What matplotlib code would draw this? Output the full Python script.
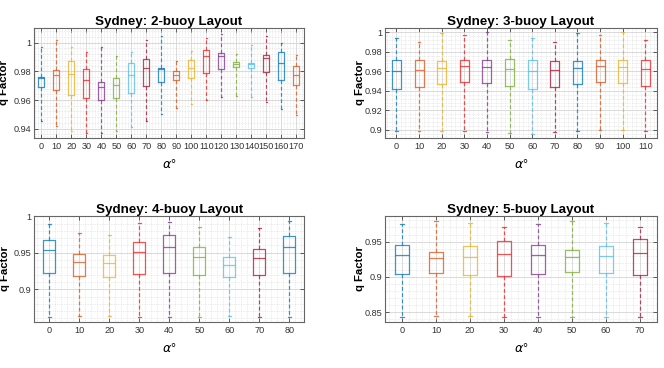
import matplotlib
matplotlib.use("Agg")
import matplotlib.pyplot as plt
from matplotlib.ticker import AutoMinorLocator, MultipleLocator

plt.rcParams['font.family'] = ['Liberation Sans', 'DejaVu Sans']

# ---- data (q factor box stats per angle) ----
angles_2 = [0, 10, 20, 30, 40, 50, 60, 70, 80, 90, 100, 110, 120, 130, 140, 150, 160, 170]
whi_2 = [0.9968, 1.0016, 0.9973, 0.9934, 0.9968, 0.9904, 0.9936, 1.0016, 1.0046,
         0.9872, 0.9940, 1.0034, 1.0064, 0.9924, 0.9982, 1.0050, 0.9995, 0.9911]
q3_2 = [0.9762, 0.9810, 0.9872, 0.9817, 0.9725, 0.9755, 0.9856, 0.9883, 0.9821,
        0.9803, 0.9879, 0.9947, 0.9931, 0.9865, 0.9856, 0.9911, 0.9934, 0.9840]
med_2 = [0.9755, 0.9775, 0.9782, 0.9737, 0.9691, 0.9702, 0.9775, 0.9826, 0.9817,
         0.9775, 0.9824, 0.9906, 0.9906, 0.9849, 0.9849, 0.9895, 0.9858, 0.9775]
q1_2 = [0.9688, 0.9672, 0.9638, 0.9611, 0.9597, 0.9611, 0.9652, 0.9698, 0.9727,
        0.9743, 0.9757, 0.9789, 0.9819, 0.9830, 0.9826, 0.9796, 0.9743, 0.9707]
wlo_2 = [0.9457, 0.9418, 0.9381, 0.9370, 0.9370, 0.9381, 0.9414, 0.9457, 0.9505,
         0.9542, 0.9572, 0.9597, 0.9620, 0.9631, 0.9620, 0.9583, 0.9537, 0.9496]

angles_3 = [0, 10, 20, 30, 40, 50, 60, 70, 80, 90, 100, 110]
whi_3 = [0.9938, 0.9904, 0.9990, 0.9969, 1.0000, 0.9918, 0.9938, 0.9901, 0.9990, 0.9969, 1.0000, 0.9918]
q3_3 = [0.9712, 0.9712, 0.9709, 0.9712, 0.9712, 0.9723, 0.9719, 0.9709, 0.9709, 0.9719, 0.9712, 0.9719]
med_3 = [0.9603, 0.9610, 0.9630, 0.9651, 0.9644, 0.9620, 0.9606, 0.9610, 0.9630, 0.9651, 0.9644, 0.9620]
q1_3 = [0.9421, 0.9435, 0.9466, 0.9486, 0.9476, 0.9445, 0.9418, 0.9435, 0.9466, 0.9486, 0.9476, 0.9445]
wlo_3 = [0.8986, 0.8983, 0.8993, 0.8986, 0.8973, 0.8966, 0.8962, 0.8973, 0.8983, 0.9000, 0.9000, 0.8993]

angles_4 = [0, 10, 20, 30, 40, 50, 60, 70, 80]
whi_4 = [0.9900, 0.9767, 0.9744, 0.9913, 0.9927, 0.9858, 0.9721, 0.9836, 0.9941]
q3_4 = [0.9680, 0.9489, 0.9475, 0.9653, 0.9740, 0.9575, 0.9447, 0.9557, 0.9735]
med_4 = [0.9534, 0.9370, 0.9356, 0.9507, 0.9575, 0.9438, 0.9333, 0.9425, 0.9575]
q1_4 = [0.9228, 0.9178, 0.9164, 0.9210, 0.9228, 0.9196, 0.9164, 0.9192, 0.9228]
wlo_4 = [0.8616, 0.8630, 0.8630, 0.8616, 0.8616, 0.8616, 0.8630, 0.8626, 0.8616]

angles_5 = [0, 10, 20, 30, 40, 50, 60, 70]
whi_5 = [0.9745, 0.9792, 0.9759, 0.9712, 0.9745, 0.9797, 0.9759, 0.9712]
q3_5 = [0.9453, 0.9358, 0.9434, 0.9514, 0.9458, 0.9377, 0.9443, 0.9533]
med_5 = [0.9307, 0.9269, 0.9288, 0.9330, 0.9316, 0.9278, 0.9302, 0.9340]
q1_5 = [0.9038, 0.9052, 0.9024, 0.9019, 0.9042, 0.9066, 0.9052, 0.9028]
wlo_5 = [0.8429, 0.8443, 0.8443, 0.8439, 0.8429, 0.8429, 0.8429, 0.8429]

palette = ['#0072BD', '#D95319', '#EDB120', '#EE1C1C',
           '#7E2F8E', '#77AC30', '#4DBEEE', '#A2142F']

panels = [
    ("Sydney: 2-buoy Layout", angles_2, whi_2, q3_2, med_2, q1_2, wlo_2,
     [0.0512, 0.625, 0.4066, 0.299], (0.9335, 1.0103), [0.94, 0.96, 0.98, 1.0],
     ['0.94', '0.96', '0.98', '1'], -0.091),
    ("Sydney: 3-buoy Layout", angles_3, whi_3, q3_3, med_3, q1_3, wlo_3,
     [0.580, 0.626, 0.409, 0.297], (0.892, 1.004), [0.9, 0.92, 0.94, 0.96, 0.98, 1.0],
     ['0.9', '0.92', '0.94', '0.96', '0.98', '1'], -0.073),
    ("Sydney: 4-buoy Layout", angles_4, whi_4, q3_4, med_4, q1_4, wlo_4,
     [0.0517, 0.126, 0.4066, 0.2865], (0.8557, 1.0), [0.9, 0.95, 1.0],
     ['0.9', '0.95', '1'], -0.091),
    ("Sydney: 5-buoy Layout", angles_5, whi_5, q3_5, med_5, q1_5, wlo_5,
     [0.580, 0.126, 0.409, 0.2865], (0.8367, 0.986), [0.85, 0.9, 0.95],
     ['0.85', '0.9', '0.95'], -0.073),
]

fig = plt.figure(figsize=(6.64, 3.68), dpi=100)

for title, ang, whi, q3, med, q1, wlo, rect, ylim, yt, ytl, ylab_x in panels:
    ax = fig.add_axes(rect)
    n = len(ang)
    stats = [dict(med=med[i], q1=q1[i], q3=q3[i], whislo=wlo[i], whishi=whi[i], fliers=[])
             for i in range(n)]
    pos = list(range(1, n + 1))
    art = ax.bxp(stats, positions=pos, widths=0.4, capwidths=0.12, showfliers=False,
                 patch_artist=False, manage_ticks=False)
    for i in range(n):
        c = palette[i % len(palette)]
        art['boxes'][i].set(color=c, linewidth=0.9, alpha=0.75)
        art['medians'][i].set(color=c, linewidth=0.9, alpha=0.75)
        for w in art['whiskers'][2 * i:2 * i + 2]:
            w.set(color=c, linewidth=0.9, linestyle=(0, (3, 2)), alpha=0.75)
        for cp in art['caps'][2 * i:2 * i + 2]:
            cp.set(color=c, linewidth=0.9, alpha=0.75)

    ax.set_xlim(0.5, n + 0.5)
    ax.set_ylim(*ylim)
    ax.set_xticks(pos)
    ax.set_xticklabels([str(a) for a in ang])
    ax.set_yticks(yt)
    ax.set_yticklabels(ytl)
    ax.xaxis.set_minor_locator(MultipleLocator(0.2))
    ax.yaxis.set_minor_locator(AutoMinorLocator(5))
    ax.grid(True, which='major', color='#d4d4d4', linewidth=0.6)
    ax.grid(True, which='minor', color='#dadada', linewidth=0.5, linestyle=(0, (1, 1.5)))
    ax.set_axisbelow(True)
    ax.tick_params(which='both', direction='in', top=True, right=True,
                   labelsize=6.6, labelcolor='#333333', color='#444444')
    ax.tick_params(which='major', length=3, width=0.6)
    ax.tick_params(axis='y', pad=2)
    ax.tick_params(axis='x', pad=3)
    ax.tick_params(which='minor', length=0)
    for s in ax.spines.values():
        s.set_color('#666666')
        s.set_linewidth(0.8)
    ax.set_title(title, fontsize=9.6, fontweight='bold', pad=2)
    ax.set_ylabel('q Factor', fontsize=8.2, fontweight='bold')
    ax.yaxis.set_label_coords(ylab_x, 0.5)
    ax.set_xlabel(r'$\alpha$°', fontsize=9, labelpad=5)

fig.savefig('out.png', dpi=100)
